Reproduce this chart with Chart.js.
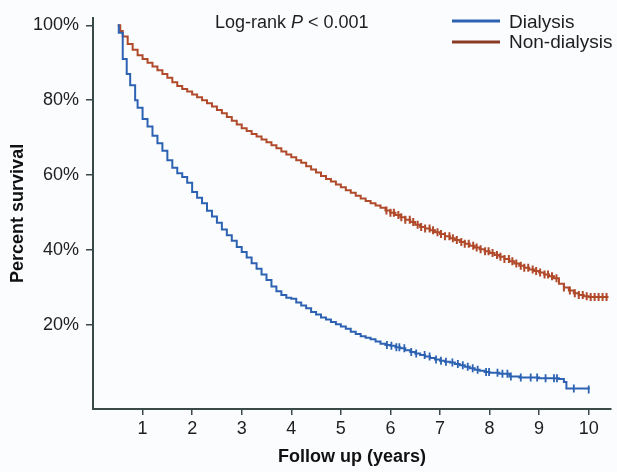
<!DOCTYPE html>
<html>
<head>
<meta charset="utf-8">
<script src="https://cdn.jsdelivr.net/npm/chart.js@4"></script>
<style>
  body { margin: 0; background: #fbfcfe; }
  canvas { display: block; }
</style>
</head>
<body>
<canvas id="km" width="617" height="472"></canvas>
<script>
const FONT = "'Liberation Sans', Arial, Helvetica, sans-serif";

// Kaplan-Meier steps (years, % surviving)
const dialysisYears = [0.5, 0.52, 0.6, 0.68, 0.75, 0.85, 0.9, 1.0, 1.1, 1.2, 1.3, 1.4, 1.5, 1.6, 1.7, 1.8, 1.9, 2.0,
  2.1, 2.2, 2.3, 2.4, 2.5, 2.6, 2.7, 2.8, 2.9, 3.0, 3.1, 3.2, 3.3, 3.4, 3.5, 3.6, 3.7, 3.8, 3.9, 4.0,
  4.1, 4.2, 4.3, 4.4, 4.5, 4.6, 4.7, 4.8, 4.9, 5.0, 5.1, 5.2, 5.3, 5.4, 5.5, 5.6, 5.7, 5.8, 5.9, 6.0,
  6.1, 6.2, 6.3, 6.4, 6.5, 6.6, 6.7, 6.8, 6.9, 7.0, 7.1, 7.2, 7.3, 7.4, 7.5, 7.6, 7.7, 7.8, 7.9, 8.0,
  8.2, 8.4, 8.6, 9.0, 9.4, 9.5, 9.55, 10.0];
const dialysisSurv = [100, 98, 91, 87, 84, 80, 78, 75, 73, 70.5, 68.5, 66.5, 64, 62, 60.5, 59.5, 58, 55.5,
  54, 52.5, 50.5, 49, 47.3, 45.5, 44, 42.5, 40.8, 39.5, 38, 36.5, 35, 33.5, 32, 30.3, 29, 28, 27.3, 27,
  26, 25.2, 24.5, 23.5, 22.8, 22, 21.5, 20.8, 20.2, 19.6, 19, 18.2, 17.6, 17, 16.6, 16.2, 15.6, 15, 14.7, 14.5,
  14.1, 13.8, 13.3, 12.8, 12.4, 12, 11.6, 11.2, 10.8, 10.5, 10.2, 10, 9.6, 9.3, 8.9, 8.5, 8.1, 7.8, 7.5, 7.3,
  7, 6.3, 6, 5.8, 5.6, 4.8, 3.1, 2.8];

const nonDialysisYears = [0.5, 0.55, 0.6, 0.7, 0.8, 0.9, 1.0, 1.1, 1.2, 1.3, 1.4, 1.5, 1.6, 1.7, 1.8, 1.9, 2.0,
  2.1, 2.2, 2.3, 2.4, 2.5, 2.6, 2.7, 2.8, 2.9, 3.0, 3.1, 3.2, 3.3, 3.4, 3.5, 3.6, 3.7, 3.8, 3.9, 4.0,
  4.1, 4.2, 4.3, 4.4, 4.5, 4.6, 4.7, 4.8, 4.9, 5.0, 5.1, 5.2, 5.3, 5.4, 5.5, 5.6, 5.7, 5.8, 5.9, 6.0,
  6.1, 6.2, 6.3, 6.4, 6.5, 6.6, 6.7, 6.8, 6.9, 7.0, 7.1, 7.2, 7.3, 7.4, 7.5, 7.6, 7.7, 7.8, 7.9, 8.0,
  8.1, 8.2, 8.3, 8.4, 8.5, 8.6, 8.7, 8.8, 8.9, 9.0, 9.1, 9.2, 9.3, 9.4, 9.5, 9.6, 9.7, 9.8, 9.9, 10.0, 10.4];
const nonDialysisSurv = [100, 98.5, 97, 95, 93.5, 92, 91, 90, 89, 88, 87, 86, 84.8, 83.8, 83, 82.3, 81.5,
  80.8, 80, 79.2, 78.3, 77.4, 76.5, 75.5, 74.5, 73.5, 72.5, 71.8, 71, 70.3, 69.5, 68.8, 68, 67.2, 66.3, 65.5, 64.8,
  64, 63.3, 62.4, 61.5, 60.7, 59.8, 59, 58.3, 57.5, 56.8, 56, 55.3, 54.5, 53.8, 53.1, 52.5, 51.9, 51.3, 50.6, 50,
  49.4, 48.8, 48.1, 47.5, 46.8, 46.2, 45.8, 45.3, 44.8, 44.3, 43.7, 43.2, 42.7, 42.2, 41.7, 41.2, 40.7, 40.2, 39.7, 39.2,
  38.7, 38.2, 37.6, 37, 36.4, 35.8, 35.3, 34.8, 34.4, 34, 33.5, 33, 32.5, 31, 30, 29.2, 28.5, 28, 27.7, 27.5, 27.5];

// censoring ticks (years)
const dialysisCensor = [5.93, 6.02, 6.12, 6.18, 6.28, 6.42, 6.52, 6.69, 6.79, 6.92, 7.02, 7.12, 7.25, 7.36,
  7.46, 7.56, 7.66, 7.76, 7.93, 7.99, 8.16, 8.26, 8.36, 8.43, 8.63, 8.83, 8.96, 9.13, 9.30, 9.36, 9.70, 10.0];
const nonDialysisCensor = [5.92, 6.0, 6.07, 6.16, 6.22, 6.3, 6.39, 6.46, 6.55, 6.62, 6.7, 6.79, 6.86, 6.95,
  7.02, 7.1, 7.19, 7.26, 7.34, 7.43, 7.5, 7.58, 7.67, 7.74, 7.82, 7.91, 7.98, 8.06, 8.15, 8.22, 8.3, 8.39,
  8.46, 8.54, 8.63, 8.7, 8.78, 8.87, 8.94, 9.02, 9.11, 9.18, 9.26, 9.35, 9.5, 9.62, 9.72, 9.8, 9.88, 9.96,
  10.04, 10.12, 10.2, 10.28, 10.36];

const xTicks = [1, 2, 3, 4, 5, 6, 7, 8, 9, 10];
const yTicks = [20, 40, 60, 80, 100];

const BLUE = '#2d62b3';
const RED = '#b04a2a';
const AXIS = '#3b4848';

const toPoints = (years, surv) => years.map((t, i) => ({ x: t, y: surv[i] }));

// value of the step curve at time t (last step at or before t)
const survivalAt = (years, surv, t) => {
  let v = surv[0];
  years.forEach((yr, i) => { if (yr <= t) v = surv[i]; });
  return v;
};

const censorPoints = (years, surv, censor) => censor.map(t => ({ x: t, y: survivalAt(years, surv, t) }));

const extras = {
  id: 'extras',
  beforeDraw(chart) {
    const c = chart.ctx;
    c.save();
    c.fillStyle = '#fbfcfe';
    c.fillRect(0, 0, chart.width, chart.height);
    c.restore();
  },
  afterDraw(chart) {
    const c = chart.ctx;
    c.save();
    c.fillStyle = '#1e1e1e';
    c.textBaseline = 'alphabetic';
    // log-rank text
    let x = 215;
    c.font = `18px ${FONT}`;
    c.fillText('Log-rank ', x, 28);
    x += c.measureText('Log-rank ').width;
    c.font = `italic 18px ${FONT}`;
    c.fillText('P', x, 28);
    x += c.measureText('P').width;
    c.font = `18px ${FONT}`;
    c.fillText(' < 0.001', x, 28);

    // legend
    const rows = [['Dialysis', BLUE, 21, 28], ['Non-dialysis', '#8a3b25', 42, 48]];
    rows.forEach(([label, col, ly, ty]) => {
      c.strokeStyle = col;
      c.lineWidth = 3;
      c.beginPath();
      c.moveTo(452, ly);
      c.lineTo(500, ly);
      c.stroke();
      c.font = `19px ${FONT}`;
      c.fillText(label, 509, ty);
    });
    c.restore();
  }
};

const chart = new Chart(document.getElementById('km'), {
  type: 'line',
  data: {
    datasets: [
      {
        label: 'Dialysis',
        data: toPoints(dialysisYears, dialysisSurv),
        borderColor: BLUE,
        borderWidth: 2,
        stepped: true,
        pointRadius: 0,
        fill: false
      },
      {
        label: 'Non-dialysis',
        data: toPoints(nonDialysisYears, nonDialysisSurv),
        borderColor: RED,
        borderWidth: 2,
        stepped: true,
        pointRadius: 0,
        fill: false
      },
      {
        label: 'Dialysis censored',
        data: censorPoints(dialysisYears, dialysisSurv, dialysisCensor),
        showLine: false,
        pointStyle: 'line',
        rotation: 90,
        pointRadius: 4,
        borderColor: BLUE,
        pointBorderWidth: 1.8
      },
      {
        label: 'Non-dialysis censored',
        data: censorPoints(nonDialysisYears, nonDialysisSurv, nonDialysisCensor),
        showLine: false,
        pointStyle: 'line',
        rotation: 90,
        pointRadius: 4,
        borderColor: RED,
        pointBorderWidth: 2
      }
    ]
  },
  options: {
    responsive: false,
    animation: false,
    devicePixelRatio: 1,
    layout: { padding: { top: 13, right: 2, left: 0, bottom: 0 } },
    plugins: {
      legend: { display: false },
      tooltip: { enabled: false }
    },
    scales: {
      x: {
        type: 'linear',
        min: 0,
        max: 10.45,
        afterBuildTicks: (scale) => { scale.ticks = xTicks.map(v => ({ value: v })); },
        afterFit: (scale) => { scale.height = 63; },
        grid: { drawOnChartArea: false, tickLength: 6, color: AXIS, lineWidth: 1.5 },
        border: { color: AXIS, width: 2 },
        ticks: { color: '#1e1e1e', font: { family: FONT, size: 18 }, padding: 3, maxRotation: 0 },
        title: {
          display: true,
          text: 'Follow up (years)',
          color: '#111',
          font: { family: FONT, size: 18, weight: 'bold' },
          padding: { top: 0, bottom: 4 }
        }
      },
      y: {
        min: -2.4,
        max: 102,
        afterBuildTicks: (scale) => { scale.ticks = yTicks.map(v => ({ value: v })); },
        afterFit: (scale) => { scale.width = 93; },
        grid: { drawOnChartArea: false, tickLength: 7, color: AXIS, lineWidth: 1.5 },
        border: { color: AXIS, width: 2 },
        ticks: { color: '#1e1e1e', font: { family: FONT, size: 18 }, padding: 7, callback: v => v + '%' },
        title: {
          display: true,
          text: 'Percent survival',
          color: '#111',
          font: { family: FONT, size: 18, weight: 'bold' },
          padding: { top: 7, bottom: 0 }
        }
      }
    }
  },
  plugins: [extras]
});
</script>
</body>
</html>
